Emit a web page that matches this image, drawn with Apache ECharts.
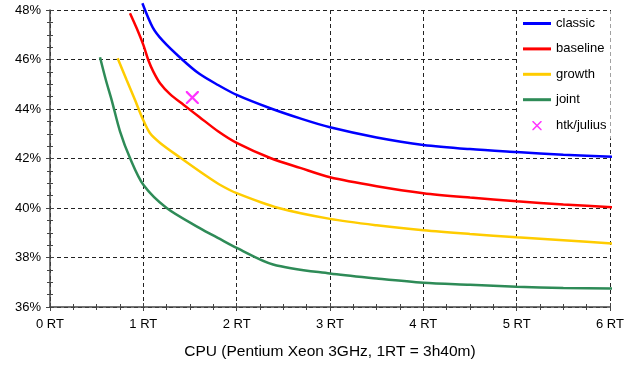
<!DOCTYPE html>
<html>
<head>
<meta charset="utf-8">
<script src="https://cdn.jsdelivr.net/npm/echarts@6/dist/echarts.min.js"></script>
<style>
  html, body { margin: 0; padding: 0; background: #fff; }
  #chart { width: 644px; height: 368px; }
</style>
</head>
<body>
<div id="chart"></div>
<script>
// x in RT, y in %
var classic = [[0.99, 48.27], [1.1, 47.3], [1.21, 46.75], [1.41, 46.02], [1.6, 45.42], [1.8, 44.97], [2.0, 44.57], [2.36, 44.03], [2.68, 43.62], [3.0, 43.26], [3.5, 42.85], [4.0, 42.55], [4.5, 42.38], [5.0, 42.26], [5.5, 42.15], [6.08, 42.06]]
var baseline = [[0.857, 47.87], [0.929, 47.26], [1.0, 46.59], [1.053, 45.98], [1.107, 45.51], [1.179, 45.04], [1.286, 44.6], [1.43, 44.17], [1.6, 43.68], [1.8, 43.1], [2.0, 42.63], [2.36, 42.02], [2.68, 41.62], [3.0, 41.24], [3.5, 40.88], [4.0, 40.6], [4.5, 40.42], [5.0, 40.27], [5.5, 40.14], [6.08, 40.02]]
var growth = [[0.725, 46.05], [0.82, 45.18], [0.91, 44.37], [0.99, 43.63], [1.07, 43.03], [1.18, 42.63], [1.39, 42.05], [1.68, 41.28], [1.82, 40.94], [2.0, 40.6], [2.45, 40.0], [3.0, 39.56], [3.5, 39.3], [4.0, 39.1], [4.5, 38.95], [5.0, 38.82], [5.5, 38.7], [6.08, 38.55]]
var joint = [[0.536, 46.09], [0.6, 45.15], [0.66, 44.37], [0.75, 43.1], [0.857, 42.02], [1.0, 40.94], [1.25, 40.0], [1.6, 39.2], [1.82, 38.75], [2.0, 38.39], [2.39, 37.72], [3.0, 37.35], [3.5, 37.15], [4.0, 36.98], [4.5, 36.9], [5.0, 36.82], [5.5, 36.77], [6.08, 36.74]]
var htkJulius = [[1.525, 44.46]]

var xTicks = [0, 1, 2, 3, 4, 5, 6]
var yTicks = [36, 38, 40, 42, 44, 46, 48]

var font = 'Liberation Sans, Arial, sans-serif'
// cross with some empty margin so the legend copy comes out smaller
var crossX = 'path://M-2.5,-2.5 L-2.5,-2.5 Z M12.5,12.5 L12.5,12.5 Z M0,0 L1.2,0 L10,8.8 L10,10 L8.8,10 L0,1.2 Z M8.8,0 L10,0 L10,1.2 L1.2,10 L0,10 L0,8.8 Z'
var lineIcon = 'path://M0,0 L28,0 L28,3 L0,3 Z'

function lineSeries(name, data, color) {
  return {
    name: name,
    type: 'line',
    data: data,
    symbol: 'none',
    smooth: 0.3,
    clip: false,
    lineStyle: { color: color, width: 2.5 },
    itemStyle: { color: color },
    animation: false
  }
}

var chart = echarts.init(document.getElementById('chart'))
chart.setOption({
  backgroundColor: '#fff',
  grid: { left: 50, right: 34, top: 10, bottom: 61, containLabel: false },
  legend: {
    orient: 'vertical',
    left: 518,
    top: 11,
    padding: [6, 4, 6, 5],
    itemWidth: 28,
    itemHeight: 14,
    itemGap: 12.4,
    backgroundColor: '#fff',
    textStyle: { fontFamily: font, fontSize: 13, color: '#000' },
    data: [
      { name: 'classic', icon: lineIcon },
      { name: 'baseline', icon: lineIcon },
      { name: 'growth', icon: lineIcon },
      { name: 'joint', icon: lineIcon },
      { name: 'htk/julius' }
    ]
  },
  xAxis: [{
    type: 'value',
    min: xTicks[0],
    max: xTicks[xTicks.length - 1],
    interval: 1,
    name: 'CPU (Pentium Xeon 3GHz, 1RT = 3h40m)',
    nameLocation: 'middle',
    nameGap: 37,
    nameTextStyle: { fontFamily: font, fontSize: 15.5, color: '#000' },
    axisLine: { lineStyle: { color: '#444', width: 1.5 } },
    axisTick: { length: 4, lineStyle: { color: '#444' } },
    minorTick: { show: true, splitNumber: 4, length: 3, lineStyle: { color: '#444' } },
    axisLabel: { fontFamily: font, fontSize: 13, color: '#000', margin: 11, formatter: function (v) { return v + ' RT' } },
    splitLine: { show: true, lineStyle: { color: '#222', type: [4, 3], width: 1 } }
  }, {
    type: 'value',
    position: 'bottom',
    min: 0,
    max: 6,
    interval: 1,
    axisLine: { show: false },
    axisTick: { inside: true, length: 4, lineStyle: { color: '#444' } },
    minorTick: { show: true, splitNumber: 4, length: 3, lineStyle: { color: '#444' } },
    axisLabel: { show: false },
    splitLine: { show: false }
  }],
  yAxis: [{
    type: 'value',
    min: yTicks[0],
    max: yTicks[yTicks.length - 1],
    interval: 2,
    axisLine: { show: true, lineStyle: { color: '#444', width: 1.5 } },
    axisTick: { show: true, length: 4, lineStyle: { color: '#444' } },
    minorTick: { show: true, splitNumber: 4, length: 3, lineStyle: { color: '#444' } },
    axisLabel: { fontFamily: font, fontSize: 13, color: '#000', margin: 9, formatter: function (v) { return v + '%' } },
    splitLine: { show: true, lineStyle: { color: '#222', type: [4, 3], width: 1 } }
  }, {
    type: 'value',
    position: 'left',
    min: 36,
    max: 48,
    interval: 2,
    axisLine: { show: false },
    axisTick: { show: true, inside: true, length: 4, lineStyle: { color: '#444' } },
    minorTick: { show: true, splitNumber: 4, length: 3, lineStyle: { color: '#444' } },
    axisLabel: { show: false },
    splitLine: { show: false }
  }],
  series: [
    lineSeries('classic', classic, '#0000ff'),
    lineSeries('baseline', baseline, '#ff0000'),
    lineSeries('growth', growth, '#ffcc00'),
    lineSeries('joint', joint, '#2e8b57'),
    {
      name: 'htk/julius',
      type: 'scatter',
      data: htkJulius,
      symbol: crossX,
      symbolSize: 19.5,
      itemStyle: { color: '#ff00ff' },
      animation: false
    }
  ]
})
</script>
</body>
</html>
